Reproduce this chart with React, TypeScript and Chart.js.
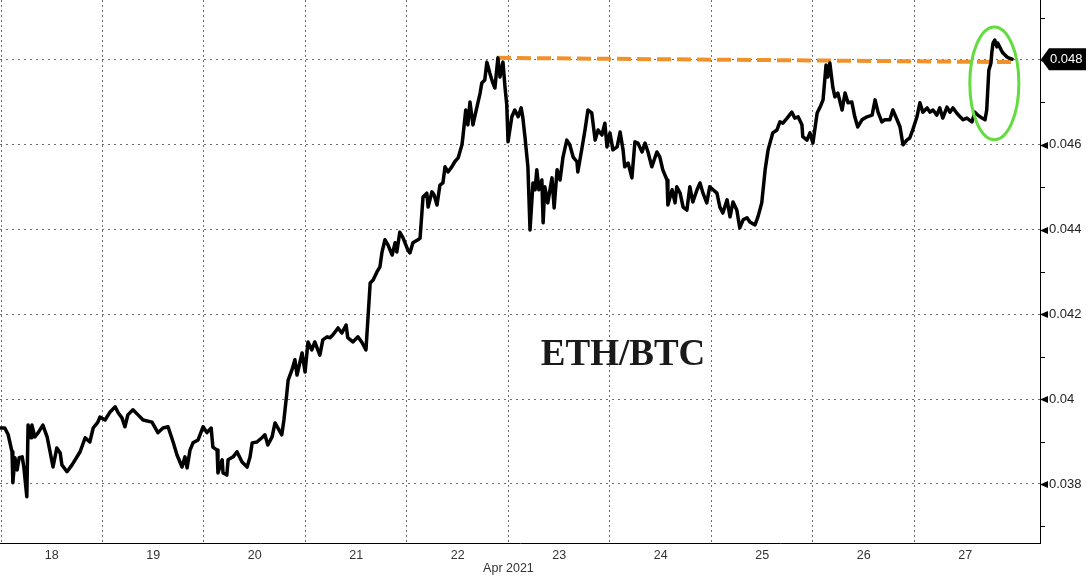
import React, { useEffect, useRef } from 'react';
import { Chart, registerables } from 'chart.js';

Chart.register(...registerables);

// ---- Data (x = hours since 18 Apr 2021 00:00, y = ETH/BTC ratio) ----
const dayLabels = ['18', '19', '20', '21', '22', '23', '24', '25', '26', '27'];
const monthLabel = 'Apr 2021';
const monthLabelHour = 120;
const xTickHours = [0, 12, 24, 36, 48, 60, 72, 84, 96, 108, 120, 132, 144, 156, 168, 180, 192, 204, 216, 228];
const yTickValues = [0.037, 0.038, 0.039, 0.04, 0.041, 0.042, 0.043, 0.044, 0.045, 0.046, 0.047, 0.048, 0.049];

const seriesApr18to19: [number, number][] = [
  [-0.2, 0.03932], [0.9, 0.03932], [1.7, 0.03916], [2.6, 0.03876], [2.8, 0.03803], [3.3, 0.03862], [3.8, 0.03833],
  [4.3, 0.03862], [5.0, 0.03864], [5.4, 0.0384], [6.1, 0.0377], [6.4, 0.03939], [7.1, 0.03909], [7.3, 0.03939],
  [8.0, 0.03911], [8.8, 0.03921], [9.9, 0.03939], [10.9, 0.03911], [11.6, 0.03876], [12.3, 0.0384], [13.2, 0.03885],
  [14.0, 0.03873], [14.4, 0.03845], [15.6, 0.03829], [16.8, 0.03845], [18.7, 0.03876], [19.9, 0.03909], [21.0, 0.03899],
  [21.8, 0.03932], [22.9, 0.03946], [23.4, 0.03958], [24.6, 0.03951], [25.8, 0.0397], [27.0, 0.03982], [27.7, 0.03968],
  [28.6, 0.03956], [29.3, 0.03935], [30.0, 0.03963], [31.2, 0.03975], [32.4, 0.03963], [33.6, 0.03951], [35.7, 0.03946],
  [37.1, 0.03921], [38.3, 0.03932], [39.5, 0.03935], [40.7, 0.03899], [41.6, 0.03869], [42.8, 0.0384], [43.5, 0.03864],
  [44.0, 0.03838], [44.7, 0.0388],
];

const seriesApr19to21: [number, number][] = [
  [45.4, 0.03897], [46.6, 0.03904], [47.8, 0.03935], [48.7, 0.03921], [49.7, 0.03932], [50.1, 0.03887], [51.1, 0.0388],
  [51.3, 0.03826], [52.3, 0.03857], [52.5, 0.03826], [53.4, 0.03821], [53.7, 0.03857], [54.9, 0.03864], [55.8, 0.03876],
  [57.0, 0.03852], [58.2, 0.0384], [58.9, 0.03864], [59.4, 0.03897], [60.5, 0.03899], [61.7, 0.03909], [62.4, 0.03916],
  [63.1, 0.03892], [64.1, 0.03911], [64.8, 0.03944], [65.5, 0.03932], [66.4, 0.03916], [66.9, 0.03951], [67.6, 0.04015],
  [67.9, 0.04045], [68.8, 0.04069], [69.5, 0.04093], [70.0, 0.04057], [71.2, 0.04109], [71.9, 0.04064], [72.6, 0.04135],
  [73.5, 0.04116], [74.2, 0.04135], [75.4, 0.04104], [76.1, 0.0414], [77.1, 0.04147], [77.8, 0.04145], [78.5, 0.04152],
  [79.7, 0.04168], [80.6, 0.04156], [81.6, 0.04175], [82.0, 0.04145], [83.2, 0.04135], [84.4, 0.04147], [85.4, 0.04133],
  [86.3, 0.04116], [87.3, 0.04274],
];

const seriesApr21to22: [number, number][] = [
  [88.0, 0.04281], [88.9, 0.043], [89.6, 0.04312], [90.1, 0.04347], [90.8, 0.04376], [91.5, 0.04364], [92.5, 0.0434],
  [93.2, 0.04369], [93.6, 0.04347], [94.3, 0.04394], [95.1, 0.0438], [96.2, 0.04352], [96.7, 0.04345], [97.4, 0.04369],
  [98.6, 0.04376], [99.1, 0.0438], [99.8, 0.04477], [100.7, 0.04486], [101.0, 0.04453], [101.9, 0.04489], [102.4, 0.04482],
  [103.1, 0.04458], [103.8, 0.04505], [104.5, 0.0451], [105.0, 0.04548], [105.7, 0.04536], [106.6, 0.04548], [107.3, 0.0456],
  [108.1, 0.04569], [109.0, 0.046], [109.2, 0.04616], [109.9, 0.04682], [110.4, 0.04647], [110.9, 0.04701], [111.6, 0.04647],
  [112.5, 0.04687], [113.3, 0.04722], [113.7, 0.04746], [114.4, 0.04753], [114.9, 0.04795], [115.6, 0.04769], [116.3, 0.04746],
  [116.8, 0.04734], [117.5, 0.04805], [118.0, 0.0476], [118.7, 0.04795], [119.2, 0.04734], [119.6, 0.04694], [119.9, 0.04607],
];

const seriesApr23to25: [number, number][] = [
  [120.8, 0.04666], [121.5, 0.04682], [122.3, 0.04666], [123.0, 0.04687], [123.4, 0.04664], [123.9, 0.04619], [124.6, 0.04548],
  [125.1, 0.04399], [125.8, 0.0451], [126.3, 0.04494], [126.7, 0.04541], [127.2, 0.04494], [127.9, 0.04517], [128.2, 0.04416],
  [128.6, 0.04501], [129.3, 0.04463], [130.3, 0.04522], [130.8, 0.04451], [131.5, 0.04541], [132.2, 0.04517], [132.9, 0.04571],
  [133.8, 0.04611], [134.5, 0.046], [135.3, 0.04571], [136.2, 0.0456], [136.4, 0.04536], [137.4, 0.04593], [138.1, 0.04635],
  [138.8, 0.04682], [139.7, 0.04675], [140.5, 0.04611], [141.2, 0.04635], [142.1, 0.04623], [142.8, 0.04651], [143.3, 0.04595],
  [144.0, 0.04628], [144.7, 0.04588], [145.7, 0.04595], [146.4, 0.0463], [147.1, 0.04588], [147.5, 0.04548], [148.3, 0.04557],
  [149.2, 0.04522], [149.9, 0.04607], [150.6, 0.04604], [151.6, 0.04583], [152.3, 0.04604], [153.0, 0.04583], [153.9, 0.04548],
  [155.1, 0.04583], [155.8, 0.04571], [156.5, 0.04541], [157.5, 0.04517], [157.7, 0.04458], [158.7, 0.04494], [159.4, 0.04463],
  [159.8, 0.04501], [160.6, 0.04486], [161.3, 0.04453], [162.2, 0.04446], [162.9, 0.04501], [163.6, 0.04465], [164.6, 0.04494],
  [165.3, 0.0451], [166.0, 0.04486], [166.9, 0.04463], [167.6, 0.04501], [168.4, 0.04494], [169.3, 0.04486], [170.0, 0.04453],
  [170.7, 0.04439], [171.7, 0.0447], [172.4, 0.0443], [173.1, 0.04465], [174.0, 0.04446], [174.7, 0.04404], [175.5, 0.04423],
  [176.4, 0.04428], [177.1, 0.04418], [178.3, 0.04411], [179.0, 0.0443], [179.9, 0.04463], [180.7, 0.04541], [181.4, 0.04588],
  [182.5, 0.04628],
];

const seriesApr25to27: [number, number][] = [
  [183.5, 0.04635], [184.2, 0.04654], [184.9, 0.04651], [185.9, 0.04663], [187.0, 0.04677], [187.7, 0.04663], [188.5, 0.04666],
  [189.4, 0.04647], [189.6, 0.04619], [190.6, 0.04611], [191.3, 0.04628], [192.0, 0.04604], [193.0, 0.04675], [193.7, 0.04689],
  [194.4, 0.04706], [195.1, 0.04788], [195.5, 0.0476], [196.0, 0.04793], [196.7, 0.04736], [197.2, 0.04713], [197.9, 0.04722],
  [198.9, 0.04682], [199.6, 0.04722], [200.3, 0.04699], [201.2, 0.04701], [201.9, 0.04666], [202.6, 0.04642], [203.6, 0.04659],
  [204.8, 0.04666], [206.0, 0.0467], [206.7, 0.04706], [207.4, 0.04677], [208.3, 0.04654], [209.0, 0.04659], [210.2, 0.04659],
  [210.9, 0.04682], [211.9, 0.04659], [212.6, 0.04642], [213.3, 0.046], [214.2, 0.04611], [214.9, 0.04616], [215.6, 0.04635],
  [216.6, 0.04666], [217.3, 0.04699], [218.0, 0.04677], [219.0, 0.04687], [219.7, 0.04677], [220.4, 0.04682], [221.3, 0.0467],
  [222.0, 0.04687], [222.7, 0.04663], [223.7, 0.04689], [224.4, 0.04677], [225.1, 0.04687], [226.0, 0.04675], [226.8, 0.04666],
  [227.5, 0.04659], [228.4, 0.04663], [229.6, 0.04654], [230.3, 0.04677], [231.0, 0.0467], [232.0, 0.04663], [232.7, 0.04659],
  [233.1, 0.04682], [233.6, 0.04776], [234.1, 0.04793], [234.3, 0.04817], [234.6, 0.0484], [235.0, 0.04847], [235.5, 0.04831],
  [235.7, 0.0484], [236.5, 0.04824], [236.9, 0.04817], [237.9, 0.04807], [238.3, 0.04805], [239.1, 0.04802],
];

const resistanceHours = [117.3, 239.8];
const resistanceValues = [0.04805, 0.04795];
const highlightCenter = { hour: 234.9, value: 0.04745 };
const highlightRadius = { hours: 5.8, value: 0.00133 };
const chartTitle = 'ETH/BTC';
const chartTitleAnchor = { hour: 147.1, value: 0.04104 };

const X_MIN = -0.24;
const X_MAX = 245.7;
const Y_MIN = 0.036608;
const Y_MAX = 0.049415;

const SANS = '"Liberation Sans", Arial, sans-serif';

const isMajor = (v: number) => Math.round(v * 1000) % 2 === 0;
const fmt = (v: number) => String(Number(v.toFixed(3)));

const overlayPlugin = {
  id: 'overlay',
  beforeDatasetsDraw(chart: any) {
    const { ctx, scales } = chart;
    const x = scales.x;
    const y = scales.y;
    ctx.save();
    ctx.font = 'bold 37px "Liberation Serif", "Times New Roman", serif';
    ctx.fillStyle = '#1a1a1a';
    ctx.textAlign = 'center';
    ctx.textBaseline = 'middle';
    ctx.fillText(chartTitle, x.getPixelForValue(chartTitleAnchor.hour), y.getPixelForValue(chartTitleAnchor.value));
    ctx.restore();
  },
  afterDatasetsDraw(chart: any) {
    const { ctx, scales } = chart;
    const x = scales.x;
    const y = scales.y;
    const cx = x.getPixelForValue(highlightCenter.hour);
    const cy = y.getPixelForValue(highlightCenter.value);
    const rx = Math.abs(x.getPixelForValue(highlightCenter.hour + highlightRadius.hours) - cx);
    const ry = Math.abs(y.getPixelForValue(highlightCenter.value + highlightRadius.value) - cy);
    ctx.save();
    ctx.beginPath();
    ctx.ellipse(cx, cy, rx, ry, 0, 0, Math.PI * 2);
    ctx.strokeStyle = '#62dc3e';
    ctx.lineWidth = 3;
    ctx.stroke();
    ctx.restore();
  },
  afterDraw(chart: any) {
    const { ctx, scales, chartArea } = chart;
    const x = scales.x;
    const y = scales.y;
    const right = chartArea.right;
    ctx.save();
    ctx.fillStyle = '#000';
    ctx.strokeStyle = '#000';
    ctx.lineWidth = 1;
    yTickValues.forEach((v) => {
      const py = Math.round(y.getPixelForValue(v)) + 0.5;
      if (isMajor(v)) {
        ctx.beginPath();
        ctx.moveTo(right, py);
        ctx.lineTo(right + 8, py - 3.5);
        ctx.lineTo(right + 8, py + 3.5);
        ctx.closePath();
        ctx.fill();
      } else {
        ctx.beginPath();
        ctx.moveTo(right, py);
        ctx.lineTo(right + 5, py);
        ctx.stroke();
      }
    });
    // last value tag
    const all = [...seriesApr18to19, ...seriesApr19to21, ...seriesApr21to22, ...seriesApr23to25, ...seriesApr25to27];
    const last = all[all.length - 1][1];
    const ly = y.getPixelForValue(last);
    ctx.beginPath();
    ctx.moveTo(right + 1, ly);
    ctx.lineTo(right + 9, ly - 11);
    ctx.lineTo(right + 46, ly - 11);
    ctx.lineTo(right + 46, ly + 11);
    ctx.lineTo(right + 9, ly + 11);
    ctx.closePath();
    ctx.fill();
    ctx.fillStyle = '#fff';
    ctx.font = '13px ' + SANS;
    ctx.textAlign = 'left';
    ctx.textBaseline = 'middle';
    ctx.fillText(fmt(Number(last.toFixed(3))), right + 10, ly + 0.5);
    // month label
    ctx.fillStyle = '#333';
    ctx.font = '12.5px ' + SANS;
    ctx.textAlign = 'center';
    ctx.textBaseline = 'middle';
    ctx.fillText(monthLabel, x.getPixelForValue(monthLabelHour), 569);
    ctx.restore();
  },
};

export default function App() {
  const canvasRef = useRef<HTMLCanvasElement | null>(null);

  useEffect(() => {
    const canvas = canvasRef.current;
    if (!canvas) return;
    const points = [...seriesApr18to19, ...seriesApr19to21, ...seriesApr21to22, ...seriesApr23to25, ...seriesApr25to27].map(
      ([h, v]) => ({ x: h, y: v })
    );
    const resistance = resistanceHours.map((h, i) => ({ x: h, y: resistanceValues[i] }));
    const gridColorX = (ctx: any) => {
      const v = ctx.tick ? ctx.tick.value : 0;
      return v % 24 === 0 ? '#6f6f6f' : 'rgba(0,0,0,0)';
    };
    const gridColorY = (ctx: any) => {
      const v = ctx.tick ? ctx.tick.value : 0;
      return isMajor(v) ? '#6f6f6f' : 'rgba(0,0,0,0)';
    };
    const chart = new Chart(canvas, {
      type: 'line',
      data: {
        datasets: [
          {
            label: 'ETH/BTC',
            data: points,
            borderColor: '#000',
            borderWidth: 3.5,
            pointRadius: 0,
            tension: 0,
            borderJoinStyle: 'round',
            borderCapStyle: 'round',
          },
          {
            label: 'Resistance',
            data: resistance,
            borderColor: '#f0912c',
            borderWidth: 4,
            borderDash: [14, 6],
            pointRadius: 0,
            tension: 0,
          },
        ],
      },
      options: {
        responsive: false,
        animation: false,
        devicePixelRatio: 1,
        layout: { padding: 0 },
        plugins: { legend: { display: false }, tooltip: { enabled: false }, title: { display: false } },
        scales: {
          x: {
            type: 'linear',
            position: 'bottom',
            min: X_MIN,
            max: X_MAX,
            afterBuildTicks: (scale: any) => {
              scale.ticks = xTickHours.map((v) => ({ value: v }));
            },
            afterFit: (scale: any) => {
              scale.height = 34;
              scale.paddingLeft = 0;
              scale.paddingRight = 0;
            },
            ticks: {
              autoSkip: false,
              maxRotation: 0,
              padding: 5,
              color: '#333',
              font: { family: SANS, size: 12.5 },
              callback: (value: any) => {
                const v = Number(value);
                if (v % 24 !== 12) return '';
                return dayLabels[(v - 12) / 24] ?? '';
              },
            },
            grid: { color: gridColorX, lineWidth: 1, drawTicks: false },
            border: { display: true, color: '#000', width: 1, dash: [2, 3] },
          },
          y: {
            type: 'linear',
            position: 'right',
            min: Y_MIN,
            max: Y_MAX,
            afterBuildTicks: (scale: any) => {
              scale.ticks = yTickValues.map((v) => ({ value: v }));
            },
            afterFit: (scale: any) => {
              scale.width = 50;
              scale.paddingTop = 0;
              scale.paddingBottom = 0;
            },
            ticks: {
              autoSkip: false,
              padding: 9,
              color: '#222',
              font: { family: SANS, size: 13 },
              callback: (value: any) => {
                const v = Number(value);
                return isMajor(v) ? fmt(v) : '';
              },
            },
            grid: { color: gridColorY, lineWidth: 1, drawTicks: false },
            border: { display: true, color: '#000', width: 1, dash: [2, 4] },
          },
        },
      } as any,
      plugins: [overlayPlugin],
    });
    return () => chart.destroy();
  }, []);

  return (
    <div style={{ position: 'absolute', left: 0, top: 0, width: 1090, height: 577, background: '#fff' }}>
      <canvas ref={canvasRef} width={1090} height={577} style={{ display: 'block' }} />
    </div>
  );
}
